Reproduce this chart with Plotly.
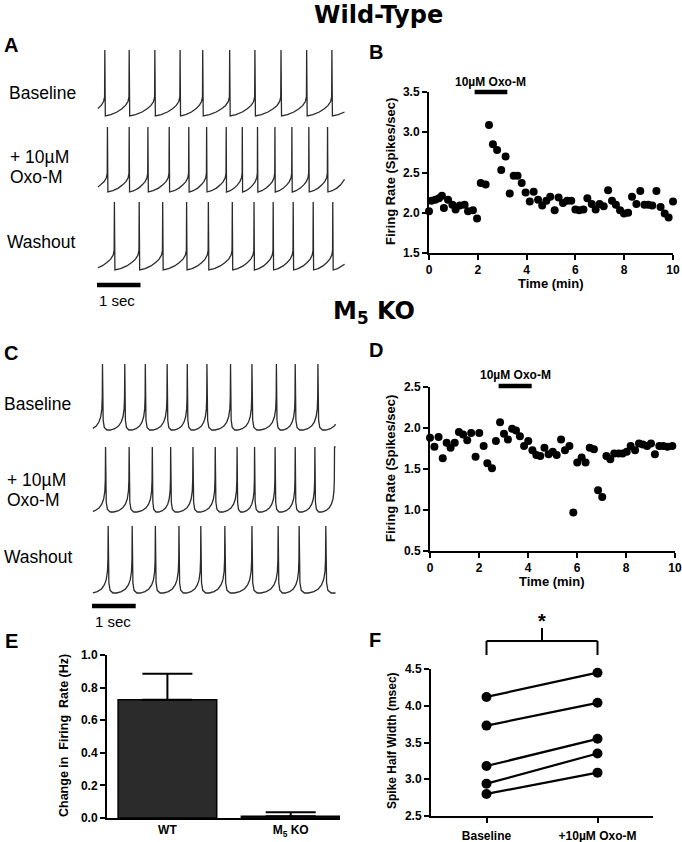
import plotly.graph_objects as go

W, H = 682, 842
ARIAL = "Liberation Sans, Arial, Helvetica, sans-serif"
TITLEF = "DejaVu Sans, Liberation Sans, sans-serif"

# ---------------- data ----------------
# Panel A (wild-type) spike times, seconds
a_baseline_spikes = [0.18, 0.74, 1.33, 1.91, 2.43, 3.05, 3.63, 4.23, 4.82, 5.40]
a_oxo_spikes = [0.24, 0.74, 1.17, 1.66, 2.11, 2.52, 2.97, 3.34, 3.69, 4.09, 4.48, 4.87, 5.30]
a_washout_spikes = [0.40, 0.97, 1.51, 2.06, 2.56, 3.11, 3.61, 4.05, 4.51, 4.97, 5.42]
# Panel C (M5 KO) spike times, seconds
c_baseline_spikes = [0.24, 0.75, 1.22, 1.72, 2.18, 2.63, 3.17, 3.66, 4.22, 4.65, 5.17]
c_oxo_spikes = [0.31, 0.85, 1.38, 1.80, 2.31, 2.82, 3.32, 3.72, 4.19, 4.65, 5.10]
c_washout_spikes = [0.37, 0.92, 1.45, 1.99, 2.49, 3.04, 3.66, 4.26, 4.74, 5.35]
trace_labels = ["Baseline", "+ 10\u00b5M", "Oxo-M", "Washout"]

# Panel B (WT firing rate)
b_time = [0.0, 0.10, 0.26, 0.41, 0.53, 0.61, 0.78, 0.96, 1.09, 1.26, 1.46, 1.60, 1.80, 1.97,
          2.12, 2.32, 2.46, 2.62, 2.79, 2.96, 3.14, 3.31, 3.47, 3.63, 3.80, 3.96, 4.13, 4.29,
          4.47, 4.64, 4.81, 4.97, 5.15, 5.31, 5.49, 5.66, 5.83, 6.00, 6.16, 6.33, 6.49, 6.67,
          6.83, 6.99, 7.16, 7.34, 7.50, 7.66, 7.83, 7.99, 8.16, 8.32, 8.50, 8.66, 8.83, 8.99,
          9.15, 9.32, 9.49, 9.66, 9.82, 10.0]
b_rate = [2.02, 2.15, 2.16, 2.18, 2.21, 2.06, 2.16, 2.10, 2.04, 2.09, 2.10, 2.02, 2.03, 1.93,
          2.37, 2.35, 3.09, 2.85, 2.78, 2.53, 2.70, 2.24, 2.46, 2.46, 2.37, 2.25, 2.14, 2.26,
          2.16, 2.09, 2.15, 2.20, 2.03, 2.19, 2.12, 2.15, 2.15, 2.04, 2.03, 2.04, 2.18, 2.11,
          2.04, 2.11, 2.08, 2.28, 2.15, 2.10, 2.03, 1.99, 2.00, 2.20, 2.11, 2.27, 2.10, 2.10,
          2.09, 2.27, 2.07, 1.99, 1.94, 2.14]
b_drug = [1.87, 3.21]

# Panel D (M5 KO firing rate)
d_time = [0.0, 0.18, 0.35, 0.52, 0.68, 0.84, 1.01, 1.18, 1.35, 1.52, 1.68, 1.86, 2.01, 2.19,
          2.34, 2.53, 2.69, 2.86, 3.02, 3.18, 3.35, 3.51, 3.67, 3.84, 4.01, 4.18, 4.34, 4.50,
          4.67, 4.84, 5.01, 5.17, 5.35, 5.51, 5.69, 5.85, 6.01, 6.19, 6.35, 6.52, 6.69, 6.86,
          7.03, 7.20, 7.36, 7.52, 7.70, 7.86, 8.03, 8.19, 8.37, 8.53, 8.69, 8.86, 9.02, 9.18,
          9.36, 9.52, 9.69, 9.89]
d_rate = [1.88, 1.77, 1.89, 1.63, 1.82, 1.76, 1.82, 1.95, 1.92, 1.85, 1.94, 1.65, 1.94, 1.78,
          1.57, 1.51, 1.84, 2.07, 1.93, 1.86, 1.99, 1.97, 1.90, 1.78, 1.84, 1.73, 1.67, 1.66,
          1.76, 1.68, 1.71, 1.67, 1.86, 1.73, 1.78, 0.97, 1.58, 1.64, 1.58, 1.76, 1.74, 1.24,
          1.16, 1.66, 1.62, 1.69, 1.69, 1.69, 1.71, 1.78, 1.73, 1.81, 1.80, 1.78, 1.81, 1.68,
          1.78, 1.78, 1.77, 1.78]
d_drug = [2.80, 4.15]

# Panel E
e_groups = ["WT", "M<sub>5</sub> KO"]
e_change = [0.725, 0.01]
e_sem = [0.16, 0.025]

# Panel F
f_conditions = ["Baseline", "+10\u00b5M Oxo-M"]
f_baseline = [4.12, 3.73, 3.18, 2.94, 2.80]
f_oxo = [4.45, 4.04, 3.55, 3.35, 3.09]

# ---------------- helpers ----------------
A_SHAPE = [(0.0, 1.0), (0.02, 0.0), (0.25, 0.02), (0.5, 0.06), (0.7, 0.11),
           (0.85, 0.16), (0.95, 0.22), (0.99, 0.29), (1.0, 1.0)]
C_SHAPE = [(0.0, 1.0), (0.03, 0.15), (0.08, 0.04), (0.2, 0.0), (0.35, 0.0), (0.55, 0.02),
           (0.72, 0.06), (0.84, 0.12), (0.92, 0.2), (0.97, 0.32), (0.99, 0.5), (1.0, 1.0)]


def interp(shape, f):
    for (f0, l0), (f1, l1) in zip(shape[:-1], shape[1:]):
        if f0 <= f <= f1:
            return l0 if f1 == f0 else l0 + (l1 - l0) * (f - f0) / (f1 - f0)
    return shape[-1][1]


def build(spikes, t0, t1, shape, peak, trough):
    segs = []
    isi0 = spikes[1] - spikes[0]
    segs.append((spikes[0] - isi0, isi0, 1 - (spikes[0] - t0) / isi0, 1.0))
    for s, n in zip(spikes[:-1], spikes[1:]):
        segs.append((s, n - s, 0.0, 1.0))
    isil = spikes[-1] - spikes[-2]
    segs.append((spikes[-1], isil, 0.0, (t1 - spikes[-1]) / isil))
    xs, ys = [], []
    for st, isi, fa, fb in segs:
        pts = [(fa, interp(shape, fa))] + [(f, l) for f, l in shape if fa < f < fb] + [(fb, interp(shape, fb))]
        for f, l in pts:
            t = st + f * isi
            if xs and abs(xs[-1] - t) < 1e-9:
                continue
            xs.append(t)
            ys.append(trough - l * (trough - peak))
    return xs, ys


def px(x):
    return x / W


def py(y):
    return 1 - y / H


annotations = []


def txt(x, y, s, size, bold=False, family=ARIAL, xanchor="left", angle=0, xref="paper"):
    annotations.append(dict(
        x=px(x) if xref == "paper" else x, y=py(y), xref=xref, yref="paper", text=s,
        showarrow=False, xanchor=xanchor, yanchor="middle", textangle=angle,
        font=dict(family=family, size=size, color="black", weight="bold" if bold else "normal"),
    ))


fig = go.Figure()

# ---------------- traces A & C ----------------
A_X0, A_X1, A_PPS = 97, 345, 43.5
C_X0, C_X1, C_PPS = 92, 336, 43.7
a_rows = [(a_baseline_spikes, 50, 116), (a_oxo_spikes, 127, 192), (a_washout_spikes, 202, 270)]
c_rows = [(c_baseline_spikes, 364, 430), (c_oxo_spikes, 447, 512), (c_washout_spikes, 526, 593)]
for spikes, pk, tr in a_rows:
    xs, ys = build(spikes, 0.02, (A_X1 - A_X0) / A_PPS - 0.01, A_SHAPE, pk, tr)
    fig.add_trace(go.Scatter(x=xs, y=ys, mode="lines", xaxis="x", yaxis="y",
                             line=dict(color="#2a2a2a", width=1.3), showlegend=False, hoverinfo="skip"))
for spikes, pk, tr in c_rows:
    xs, ys = build(spikes, 0.02, (C_X1 - C_X0) / C_PPS - 0.01, C_SHAPE, pk, tr)
    fig.add_trace(go.Scatter(x=xs, y=ys, mode="lines", xaxis="x2", yaxis="y",
                             line=dict(color="#2a2a2a", width=1.3), showlegend=False, hoverinfo="skip"))
# scale bars (1 sec)
fig.add_trace(go.Scatter(x=[0, 1], y=[285, 285], mode="lines", xaxis="x", yaxis="y",
                         line=dict(color="black", width=4.5), showlegend=False))
fig.add_trace(go.Scatter(x=[0, 1], y=[606, 606], mode="lines", xaxis="x2", yaxis="y",
                         line=dict(color="black", width=4.5), showlegend=False))
txt(97, 300, "1 sec", 15)
txt(93, 621, "1 sec", 15)

# trace labels
txt(7, 93, trace_labels[0], 17.5)
txt(8, 157, trace_labels[1], 17.5)
txt(8, 177, trace_labels[2], 17.5)
txt(5, 242, trace_labels[3], 17.5)
txt(2, 404, trace_labels[0], 17.5)
txt(5, 480, trace_labels[1], 17.5)
txt(5, 500, trace_labels[2], 17.5)
txt(2, 557, trace_labels[3], 17.5)

# titles and letters
txt(379, 15, "Wild-Type", 24, bold=True, family=TITLEF, xanchor="center")
txt(374, 312, "M<sub>5</sub> KO", 24, bold=True, family=TITLEF, xanchor="center")
for L, x, y in [("A", 2, 45), ("B", 367, 52), ("C", 2, 353), ("D", 367, 350), ("E", 3, 641), ("F", 367, 640)]:
    txt(x, y, L, 20, bold=True)

# ---------------- B ----------------
fig.add_trace(go.Scatter(x=b_time, y=b_rate, mode="markers", xaxis="x3", yaxis="y3",
                         marker=dict(color="black", size=8), cliponaxis=False, showlegend=False))
# ---------------- D ----------------
fig.add_trace(go.Scatter(x=d_time, y=d_rate, mode="markers", xaxis="x4", yaxis="y4",
                         marker=dict(color="black", size=8), cliponaxis=False, showlegend=False))

shapes = []
shapes.append(dict(type="line", xref="x3", yref="paper", x0=b_drug[0], x1=b_drug[1],
                   y0=py(92), y1=py(92), line=dict(color="black", width=4.5)))
shapes.append(dict(type="line", xref="x4", yref="paper", x0=d_drug[0], x1=d_drug[1],
                   y0=py(386), y1=py(386), line=dict(color="black", width=4.5)))
txt(sum(b_drug) / 2, 82, "10\u00b5M Oxo-M", 12, bold=True, xanchor="center", xref="x3")
txt(sum(d_drug) / 2, 375, "10\u00b5M Oxo-M", 12, bold=True, xanchor="center", xref="x4")

txt(390, 172, "Firing Rate (Spikes/sec)", 13, bold=True, xanchor="center", angle=-90)
txt(551, 283, "Time (min)", 13, bold=True, xanchor="center")
txt(390, 469, "Firing Rate (Spikes/sec)", 13, bold=True, xanchor="center", angle=-90)
txt(552, 581, "Time (min)", 13, bold=True, xanchor="center")

# ---------------- E ----------------
fig.add_trace(go.Bar(x=e_groups, y=e_change, xaxis="x5", yaxis="y5", width=0.8,
                     marker=dict(color="#2b2b2b", line=dict(color="black", width=1.5)),
                     error_y=dict(type="data", array=e_sem, arrayminus=[0, 0], symmetric=False,
                                  color="black", thickness=2, width=25),
                     showlegend=False))
txt(64, 736, "Change in\u00a0\u00a0Firing\u00a0\u00a0Rate (Hz)", 12.5, bold=True, xanchor="center", angle=-90)

# ---------------- F ----------------
for b, o in zip(f_baseline, f_oxo):
    fig.add_trace(go.Scatter(x=[0, 1], y=[b, o], mode="lines+markers", xaxis="x6", yaxis="y6",
                             line=dict(color="black", width=2.2), marker=dict(color="black", size=10),
                             cliponaxis=False, showlegend=False))
txt(392, 741, "Spike Half Width (msec)", 12, bold=True, xanchor="center", angle=-90)
# significance bracket
for x0, x1, y0, y1 in [(0, 0, 655, 641), (1, 1, 655, 641), (0, 1, 641, 641), (0.5, 0.5, 641, 628)]:
    shapes.append(dict(type="line", xref="x6", yref="paper", x0=x0, x1=x1, y0=py(y0), y1=py(y1),
                       line=dict(color="black", width=2)))
txt(0.5, 621, "*", 20, bold=True, xanchor="center", xref="x6")

# ---------------- layout ----------------
TICKF = dict(family=ARIAL, size=12, color="black", weight="bold")


def ax(**kw):
    d = dict(showline=True, linecolor="black", linewidth=2, ticks="outside", ticklen=5,
             tickwidth=2, tickcolor="black", showgrid=False, zeroline=False, tickfont=TICKF,
             fixedrange=True, automargin=False, ticklabeloverflow="allow")
    d.update(kw)
    return d


hidden = dict(visible=False, showgrid=False, zeroline=False, fixedrange=True, automargin=False)
fig.update_layout(
    width=W, height=H, autosize=False, margin=dict(l=0, r=0, t=0, b=0, pad=0, autoexpand=False),
    paper_bgcolor="white", plot_bgcolor="rgba(0,0,0,0)", showlegend=False,
    xaxis=dict(hidden, domain=[px(A_X0), px(A_X1)], range=[0, (A_X1 - A_X0) / A_PPS], anchor="y"),
    xaxis2=dict(hidden, domain=[px(C_X0), px(C_X1)], range=[0, (C_X1 - C_X0) / C_PPS], anchor="y"),
    yaxis=dict(hidden, domain=[0, 1], range=[H, 0], anchor="x"),
    xaxis3=ax(domain=[px(429), px(673)], range=[0, 10], dtick=2, tick0=0, anchor="y3"),
    yaxis3=ax(domain=[py(253), py(92)], range=[1.5, 3.5], dtick=0.5, tickformat=".1f", anchor="x3"),
    xaxis4=ax(domain=[px(430), px(675)], range=[0, 10], dtick=2, tick0=0, anchor="y4"),
    yaxis4=ax(domain=[py(551), py(387)], range=[0.5, 2.5], dtick=0.5, tickformat=".1f", anchor="x4"),
    xaxis5=ax(domain=[px(107), px(340)], range=[-0.49, 1.4], ticks="", anchor="y5"),
    yaxis5=ax(domain=[py(818), py(655)], range=[0, 1.0], dtick=0.2, tickformat=".1f", anchor="x5"),
    xaxis6=ax(domain=[px(431), px(653)], range=[-0.5, 1.5], tickvals=[0, 1], ticktext=f_conditions,
              ticklabelstandoff=3, anchor="y6"),
    yaxis6=ax(domain=[py(816), py(669)], range=[2.5, 4.5], dtick=0.5, tickformat=".1f", anchor="x6"),
    shapes=shapes, annotations=annotations,
)

fig.write_html("out.html", config={"displayModeBar": False},
               post_script="document.body.style.margin='0';document.body.style.overflow='hidden';")
